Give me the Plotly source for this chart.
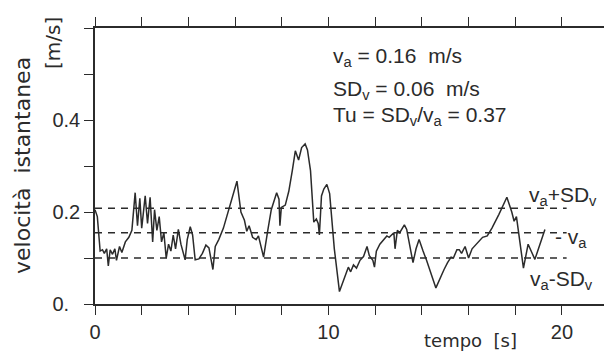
import plotly.graph_objects as go

# ---- data ----
t_s = [0.00, 0.10, 0.22, 0.32, 0.40, 0.50, 0.57, 0.65, 0.75, 0.85, 0.92, 1.05, 1.15, 1.30, 1.45,
       1.58, 1.72, 1.82, 1.92, 2.00, 2.15, 2.25, 2.36, 2.47, 2.55, 2.65, 2.75, 2.85, 2.95, 3.05,
       3.15, 3.25, 3.35, 3.45, 3.57, 3.68, 3.86, 3.95, 4.08, 4.18, 4.29, 4.45, 4.60, 4.75, 4.88,
       4.95, 5.05, 5.15, 5.30, 5.50, 5.75, 6.08, 6.25, 6.40, 6.50, 6.60, 6.75, 6.90, 7.00, 7.22,
       7.40, 7.55, 7.78, 7.88, 7.92, 7.98, 8.15, 8.30, 8.45, 8.58, 8.72, 8.85, 9.00, 9.10, 9.23,
       9.37, 9.48, 9.56, 9.61, 9.70, 9.80, 9.93, 10.05, 10.15, 10.25, 10.47, 10.60, 10.73, 10.85,
       10.95, 11.07, 11.20, 11.35, 11.50, 11.65, 11.75, 11.90, 11.97, 12.05, 12.20, 12.35, 12.50,
       12.60, 12.70, 12.80, 12.85, 12.95, 13.05, 13.25, 13.35, 13.50, 13.62, 13.75, 13.88, 14.05,
       14.20, 14.60, 14.80, 14.95, 15.10, 15.25, 15.35, 15.50, 15.60, 15.70, 15.85, 16.00, 16.15,
       16.40, 16.60, 16.80, 17.00, 17.30, 17.64, 17.85, 17.95, 18.05, 18.35, 18.55, 18.84, 19.27]
v_inst = [0.205, 0.190, 0.115, 0.118, 0.110, 0.120, 0.083, 0.118, 0.108, 0.120, 0.095, 0.125, 0.112, 0.135, 0.145,
          0.160, 0.242, 0.170, 0.230, 0.165, 0.235, 0.175, 0.232, 0.135, 0.205, 0.160, 0.190, 0.135, 0.155, 0.100,
          0.130, 0.115, 0.150, 0.120, 0.162, 0.130, 0.096, 0.140, 0.168, 0.150, 0.096, 0.098, 0.110, 0.128, 0.122,
          0.100, 0.075, 0.125, 0.140, 0.165, 0.210, 0.267, 0.200, 0.182, 0.158, 0.170, 0.145, 0.140, 0.148, 0.102,
          0.160, 0.205, 0.242, 0.228, 0.170, 0.210, 0.215, 0.245, 0.290, 0.333, 0.313, 0.340, 0.348, 0.335, 0.290,
          0.178, 0.185, 0.175, 0.150, 0.235, 0.250, 0.260, 0.240, 0.180, 0.120, 0.027, 0.045, 0.062, 0.080,
          0.070, 0.085, 0.078, 0.095, 0.103, 0.125, 0.105, 0.095, 0.080, 0.115, 0.130, 0.140, 0.148,
          0.145, 0.150, 0.155, 0.120, 0.160, 0.155, 0.172, 0.162, 0.120, 0.090, 0.120, 0.140, 0.115,
          0.095, 0.035, 0.060, 0.075, 0.090, 0.102, 0.100, 0.118, 0.118, 0.110, 0.125, 0.100, 0.120,
          0.135, 0.145, 0.148, 0.165, 0.195, 0.232, 0.200, 0.180, 0.190, 0.078, 0.130, 0.097, 0.162]

level_names = ["va+SD", "va", "va-SD"]
level_values = [0.208, 0.155, 0.100]
level_t_range = [0.0, 20.2]

x_tickvals = [0, 10, 20]
x_ticktext = ["0", "10", "20"]
x_minor_step = 2
y_tickvals = [0.0, 0.2, 0.4]
y_ticktext = ["0.\u2007", "0.2", "0.4"]
y_minor_step = 0.1

INK = "#2b2b2b"
FONT = "Liberation Sans"

# the page body has an 8px margin: figure starts at page (8, 8)
OFF = 8
PL, PR, PT, PB = 95, 604, 28, 304   # plot area in page pixels
W, H = 612 - OFF, 354 - OFF

fig = go.Figure()
for name, lv in zip(level_names, level_values):
    fig.add_trace(go.Scatter(
        x=level_t_range, y=[lv, lv], mode="lines", name=name,
        line=dict(color=INK, width=1.6, dash="7px,6px"), showlegend=False, hoverinfo="skip"))
fig.add_trace(go.Scatter(x=t_s, y=v_inst, mode="lines", name="v",
                         line=dict(color=INK, width=1.5), showlegend=False))

axis_common = dict(showline=True, linecolor=INK, linewidth=1.5, mirror="ticks",
                   ticks="outside", ticklen=9, tickwidth=1.4, tickcolor=INK,
                   showgrid=False, zeroline=False, automargin=False,
                   tickfont=dict(family=FONT, size=20, color=INK))
fig.update_xaxes(range=[0, 21.8], tickvals=x_tickvals, ticktext=x_ticktext,
                 minor=dict(dtick=x_minor_step, tick0=0, ticks="outside", ticklen=9,
                            tickwidth=1.4, tickcolor=INK, showgrid=False),
                 **axis_common)
fig.update_yaxes(range=[0, 0.6], tickvals=y_tickvals, ticktext=y_ticktext,
                 minor=dict(dtick=y_minor_step, tick0=0, ticks="outside", ticklen=9,
                            tickwidth=1.4, tickcolor=INK, showgrid=False),
                 **axis_common)

ann_font = dict(family=FONT, size=21, color=INK)
annotations = [
    dict(x=10.1, y=0.538, text="v<sub>a</sub> = 0.16  m/s", xanchor="left"),
    dict(x=10.1, y=0.466, text="SD<sub>v</sub> = 0.06  m/s", xanchor="left"),
    dict(x=10.1, y=0.409, text="Tu = SD<sub>v</sub>/v<sub>a</sub> = 0.37", xanchor="left"),
    dict(x=18.5, y=0.234, text="v<sub>a</sub>+SD<sub>v</sub>", xanchor="left"),
    dict(x=19.6, y=0.144, text="- v<sub>a</sub>", xanchor="left"),
    dict(x=18.55, y=0.052, text="v<sub>a</sub>-SD<sub>v</sub>", xanchor="left"),
]
for a in annotations:
    fig.add_annotation(xref="x", yref="y", showarrow=False, yanchor="middle",
                       font=ann_font, **a)


def px_x(p):
    return (p - PL) / (PR - PL)


def px_y(p):
    return (PB - p) / (PB - PT)


fig.add_annotation(xref="paper", yref="paper", x=px_x(470), y=px_y(340),
                   text="tempo  [s]", showarrow=False, xanchor="center", yanchor="middle",
                   font=dict(family="DejaVu Sans", size=18, color=INK))
fig.add_annotation(xref="paper", yref="paper", x=px_x(22), y=px_y(166),
                   text="velocità  istantanea", textangle=-90, showarrow=False,
                   xanchor="center", yanchor="middle",
                   font=dict(family="DejaVu Sans", size=22, color=INK))
fig.add_annotation(xref="paper", yref="paper", x=px_x(53), y=px_y(43),
                   text="[m/s]", textangle=-90, showarrow=False,
                   xanchor="center", yanchor="middle",
                   font=dict(family="DejaVu Sans", size=20, color=INK))

fig.update_layout(width=W, height=H,
                  margin=dict(l=PL - OFF, r=612 - PR, t=PT - OFF, b=354 - PB),
                  paper_bgcolor="white", plot_bgcolor="white")

fig.write_html("out.html")
